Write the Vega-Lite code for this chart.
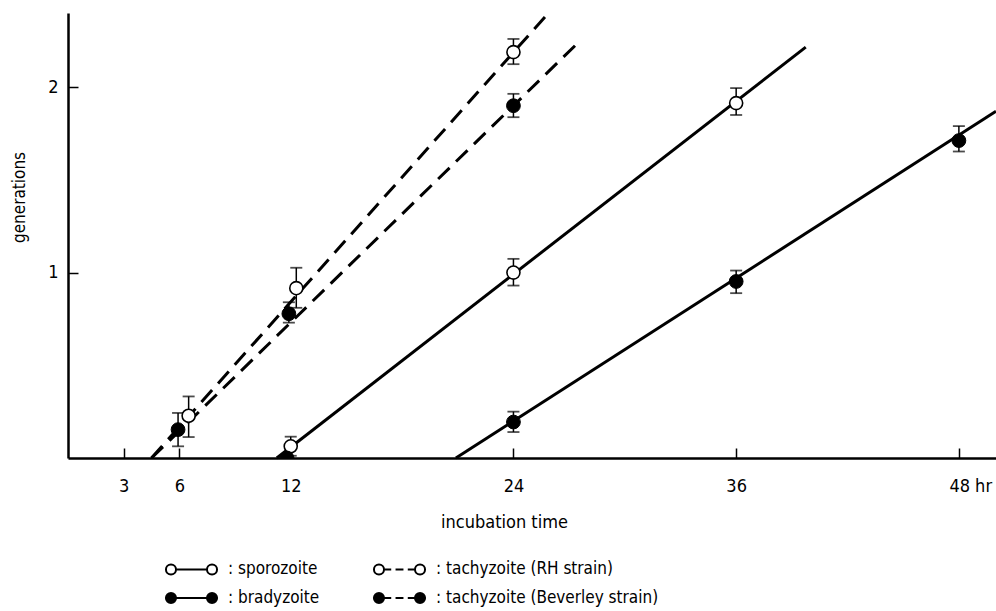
{
  "$schema": "https://vega.github.io/schema/vega-lite/v6.json",
  "width": 928,
  "height": 445,
  "autosize": {"type": "none"},
  "padding": {"left": 68, "top": 13, "right": 0, "bottom": 153},
  "background": "white",
  "config": {
    "view": {"stroke": null},
    "font": "DejaVu Sans Condensed",
    "axis": {"domainColor": "black", "tickColor": "black", "labelColor": "black", "titleColor": "black", "grid": false, "labelFont": "DejaVu Sans Condensed", "titleFont": "DejaVu Sans Condensed", "titleFontWeight": "normal"},
    "legend": {"symbolStrokeColor": "black", "symbolStrokeWidth": 2}
  },
  "datasets": {
    "points": [
      {"series": "sporozoite", "t": 12, "g": 0.063, "lo": 0.012, "hi": 0.115},
      {"series": "sporozoite", "t": 24, "g": 1.0, "lo": 0.93, "hi": 1.074},
      {"series": "sporozoite", "t": 36, "g": 1.914, "lo": 1.85, "hi": 1.995},
      {"series": "bradyzoite", "t": 11.8, "g": 0.0},
      {"series": "bradyzoite", "t": 24, "g": 0.194, "lo": 0.14, "hi": 0.25},
      {"series": "bradyzoite", "t": 36, "g": 0.952, "lo": 0.889, "hi": 1.011},
      {"series": "bradyzoite", "t": 48, "g": 1.712, "lo": 1.653, "hi": 1.79},
      {"series": "tachyzoite (RH strain)", "t": 6.5, "g": 0.228, "lo": 0.113, "hi": 0.332},
      {"series": "tachyzoite (RH strain)", "t": 12.3, "g": 0.916, "lo": 0.81, "hi": 1.026},
      {"series": "tachyzoite (RH strain)", "t": 24, "g": 2.189, "lo": 2.124, "hi": 2.26},
      {"series": "tachyzoite (Beverley strain)", "t": 5.93, "g": 0.153, "lo": 0.063, "hi": 0.243},
      {"series": "tachyzoite (Beverley strain)", "t": 11.9, "g": 0.778, "lo": 0.73, "hi": 0.84},
      {"series": "tachyzoite (Beverley strain)", "t": 24, "g": 1.9, "lo": 1.838, "hi": 1.964}
    ],
    "fits": [
      {"series": "sporozoite", "t": 11.25, "g": 0},
      {"series": "sporozoite", "t": 39.75, "g": 2.216},
      {"series": "bradyzoite", "t": 20.9, "g": 0},
      {"series": "bradyzoite", "t": 50, "g": 1.87},
      {"series": "tachyzoite (RH strain)", "t": 4.5, "g": 0},
      {"series": "tachyzoite (RH strain)", "t": 25.8, "g": 2.39},
      {"series": "tachyzoite (Beverley strain)", "t": 4.5, "g": 0},
      {"series": "tachyzoite (Beverley strain)", "t": 27.65, "g": 2.256}
    ]
  },
  "encoding": {
    "x": {
      "field": "t",
      "type": "quantitative",
      "scale": {"domain": [0, 50], "nice": false, "zero": false},
      "axis": {
        "title": "incubation time",
        "values": [3, 6, 12, 24, 36, 48],
        "labelExpr": "datum.value == 48 ? '48 hr' : datum.label",
        "labelAlign": {"condition": {"test": "datum.value == 48", "value": "left"}, "value": "center"},
        "labelOffset": {"condition": {"test": "datum.value == 48", "value": -10}, "value": 0},
        "tickSize": -10,
        "tickWidth": 1.5,
        "domainWidth": 2.5,
        "labelPadding": 29,
        "labelFontSize": 18,
        "labelBaseline": "top",
        "titleFontSize": 18,
        "titleX": 436,
        "titleY": 69,
        "titleBaseline": "alphabetic",
        "titleAnchor": "middle",
        "titleAlign": "center"
      }
    }
  },
  "layer": [
    {
      "data": {"name": "fits"},
      "transform": [{"filter": "indexof(datum.series, 'tachyzoite') < 0"}],
      "mark": {"type": "line", "color": "black", "strokeWidth": 3, "strokeCap": "butt"},
      "encoding": {
        "y": {"field": "g", "type": "quantitative", "title": "generations", "scale": {"domain": [0, 2.4], "nice": false},
          "axis": {"values": [1, 2], "format": "d", "tickSize": -10, "tickWidth": 1.5, "domainWidth": 2.5, "labelPadding": 20, "labelFontSize": 18, "titleFontSize": 17, "titleX": -49, "titleY": 184, "titleBaseline": "middle", "titleAlign": "center", "titleAngle": -90}},
        "detail": {"field": "series"}
      }
    },
    {
      "data": {"name": "fits"},
      "transform": [{"filter": "indexof(datum.series, 'tachyzoite') >= 0"}],
      "mark": {"type": "line", "color": "black", "strokeWidth": 3, "strokeDash": [16, 9], "strokeCap": "butt"},
      "encoding": {
        "y": {"field": "g", "type": "quantitative", "title": "generations"},
        "detail": {"field": "series"}
      }
    },
    {
      "data": {"name": "points"},
      "transform": [{"filter": "isValid(datum.lo)"}],
      "mark": {"type": "rule", "color": "black", "strokeWidth": 1.5},
      "encoding": {
        "y": {"field": "lo", "type": "quantitative", "title": "generations"},
        "y2": {"field": "hi"}
      }
    },
    {
      "data": {"name": "points"},
      "transform": [{"filter": "isValid(datum.lo)"}, {"fold": ["lo", "hi"], "as": ["end", "v"]}],
      "mark": {"type": "tick", "orient": "horizontal", "color": "black", "thickness": 1.8, "size": 12},
      "encoding": {
        "y": {"field": "v", "type": "quantitative", "title": "generations"}
      }
    },
    {
      "data": {"name": "points"},
      "mark": {"type": "point", "filled": false, "opacity": 0, "size": 1296, "color": "black", "stroke": "black", "strokeWidth": 2},
      "encoding": {
        "y": {"field": "g", "type": "quantitative", "title": "generations"},
        "shape": {
          "field": "series",
          "type": "nominal",
          "scale": {
            "domain": ["sporozoite", "bradyzoite", "tachyzoite (RH strain)", "tachyzoite (Beverley strain)"],
            "range": [
              "M-1.42,0A0.28,0.28 0 1,1 -0.86,0A0.28,0.28 0 1,1 -1.42,0Z M-0.86,0L0.86,0 M0.86,0A0.28,0.28 0 1,1 1.42,0A0.28,0.28 0 1,1 0.86,0Z",
              "M-1.42,0A0.28,0.28 0 1,1 -0.86,0A0.28,0.28 0 1,1 -1.42,0Z M-0.86,0L0.86,0 M0.86,0A0.28,0.28 0 1,1 1.42,0A0.28,0.28 0 1,1 0.86,0Z",
              "M-1.42,0A0.28,0.28 0 1,1 -0.86,0A0.28,0.28 0 1,1 -1.42,0Z M-0.86,0L-0.46,0 M-0.22,0L0.22,0 M0.46,0L0.86,0 M0.86,0A0.28,0.28 0 1,1 1.42,0A0.28,0.28 0 1,1 0.86,0Z",
              "M-1.42,0A0.28,0.28 0 1,1 -0.86,0A0.28,0.28 0 1,1 -1.42,0Z M-0.86,0L-0.46,0 M-0.22,0L0.22,0 M0.46,0L0.86,0 M0.86,0A0.28,0.28 0 1,1 1.42,0A0.28,0.28 0 1,1 0.86,0Z"
            ]
          },
          "legend": {
            "title": null,
            "orient": "none",
            "legendX": 104.5,
            "legendY": 537,
            "columns": 2,
            "columnPadding": 50,
            "gridAlign": "each",
            "rowPadding": 0,
            "labelExpr": "': ' + datum.label",
            "symbolSize": 1296,
            "symbolStrokeColor": "black",
            "symbolStrokeWidth": 2,
            "symbolOpacity": 1,
            "labelFontSize": 17,
            "labelFont": "DejaVu Sans Condensed",
            "labelColor": "black",
            "labelOffset": 17.5,
            "labelLimit": 400,
            "encode": {"symbols": {"update": {"stroke": {"value": "black"}, "strokeWidth": {"value": 2}, "opacity": {"value": 1}, "strokeOpacity": {"value": 1}}}}
          }
        },
        "fill": {
          "field": "series",
          "type": "nominal",
          "scale": {
            "domain": ["sporozoite", "bradyzoite", "tachyzoite (RH strain)", "tachyzoite (Beverley strain)"],
            "range": ["white", "black", "white", "black"]
          },
          "legend": {
            "title": null,
            "orient": "none",
            "legendX": 104.5,
            "legendY": 537,
            "columns": 2,
            "columnPadding": 50,
            "gridAlign": "each",
            "rowPadding": 0,
            "labelExpr": "': ' + datum.label",
            "symbolSize": 1296,
            "symbolStrokeColor": "black",
            "symbolStrokeWidth": 2,
            "symbolOpacity": 1,
            "labelFontSize": 17,
            "labelFont": "DejaVu Sans Condensed",
            "labelColor": "black",
            "labelOffset": 17.5,
            "labelLimit": 400,
            "encode": {"symbols": {"update": {"stroke": {"value": "black"}, "strokeWidth": {"value": 2}, "opacity": {"value": 1}, "strokeOpacity": {"value": 1}}}}
          }
        }
      }
    },
    {
      "data": {"name": "points"},
      "transform": [{"filter": "datum.series == 'sporozoite' || datum.series == 'tachyzoite (RH strain)'"}],
      "mark": {"type": "point", "shape": "circle", "filled": true, "fill": "white", "stroke": "black", "strokeWidth": 1.6, "size": 170, "opacity": 1},
      "encoding": {
        "y": {"field": "g", "type": "quantitative", "title": "generations"}
      }
    },
    {
      "data": {"name": "points"},
      "transform": [{"filter": "datum.series == 'bradyzoite' || datum.series == 'tachyzoite (Beverley strain)'"}],
      "mark": {"type": "point", "shape": "circle", "filled": true, "fill": "black", "stroke": "black", "strokeWidth": 1, "size": 190, "opacity": 1, "clip": true},
      "encoding": {
        "y": {"field": "g", "type": "quantitative", "title": "generations"}
      }
    }
  ]
}
